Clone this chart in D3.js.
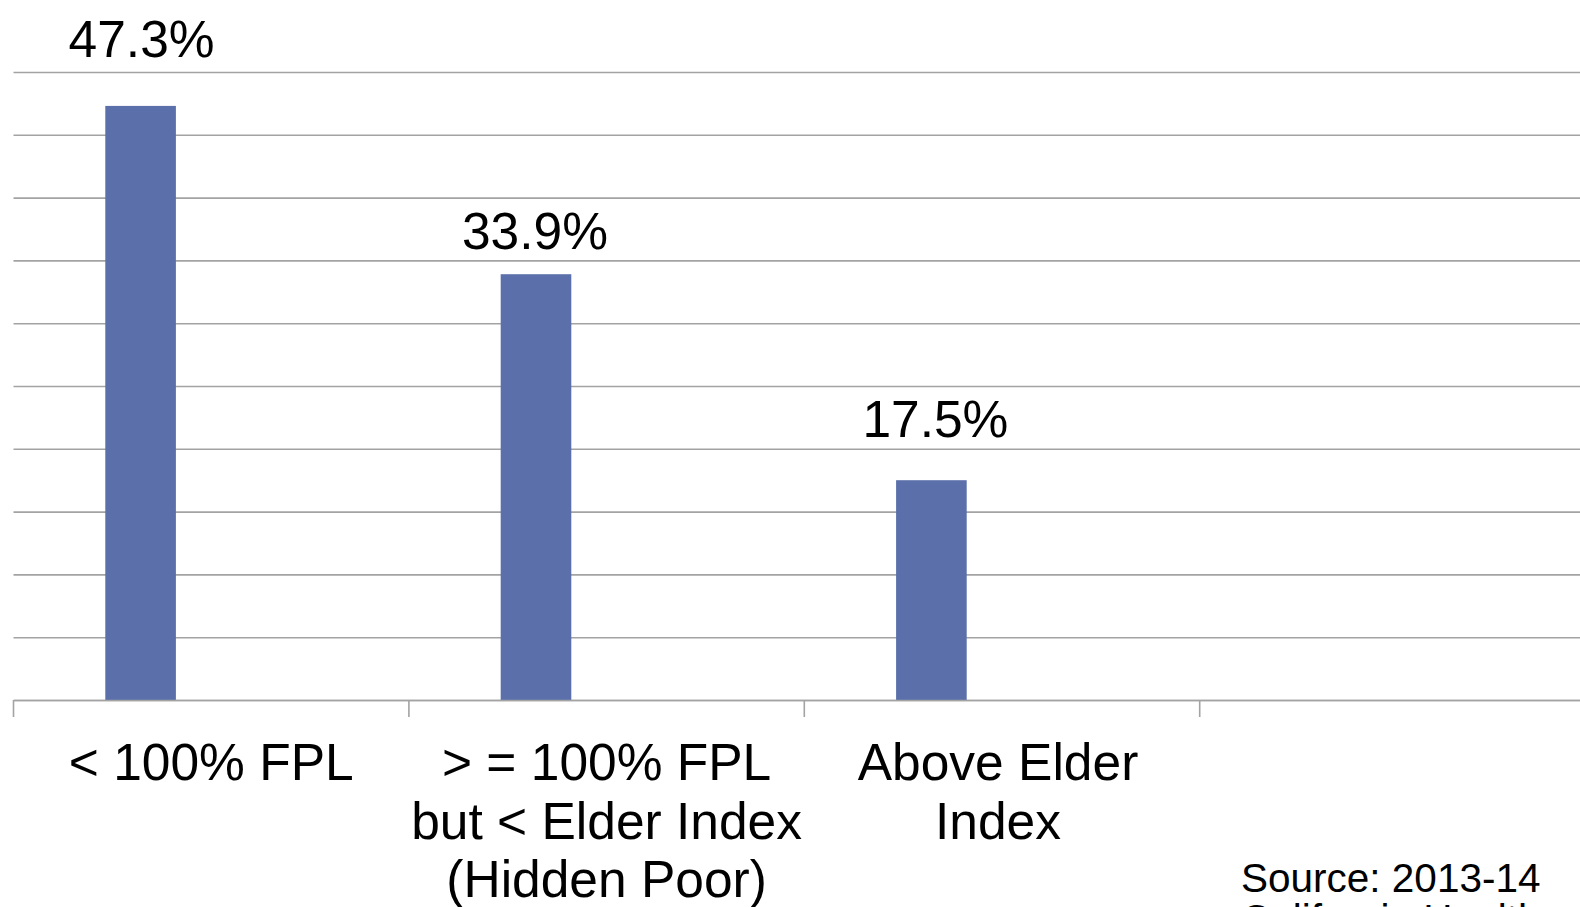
<!DOCTYPE html>
<html>
<head>
<meta charset="utf-8">
<script src="https://cdn.jsdelivr.net/npm/d3@7"></script>
<style>
  html, body { margin: 0; padding: 0; background: #fff; overflow: hidden; }
  svg { display: block; font-family: "Liberation Sans", Arial, sans-serif; }
</style>
</head>
<body>
<svg id="chart"></svg>
<script>
// chart data
const categories = ['lt100', 'gte100', 'above', 'empty']
const categoryLines = [
  ['< 100% FPL'],
  ['> = 100% FPL', 'but < Elder Index', '(Hidden Poor)'],
  ['Above Elder', 'Index'],
  []
]
const values = [47.3, 33.9, 17.5, null]
const valueLabels = ['47.3%', '33.9%', '17.5%', '']
// original chart had 3 series slots per category, only the first one is filled
const seriesSlots = ['s1', 's2', 's3']
const yTicks = [0, 5, 10, 15, 20, 25, 30, 35, 40, 45, 50]
const sourceLines = ['Source: 2013-14', 'California Health']

// label nudges (pixels), as placed in the original
const labelLift = [49, 25, 43, 0]
const labelShift = [1, -1, 4, 0]
const catShift = [0, 0, -4, 0]

const width = 1580
const height = 907

const svg = d3.select('svg#chart')
  .attr('width', width)
  .attr('height', height)

const plotLeft = 13.5
const plotRight = plotLeft + 4 * 395.4
const plotTop = 72
const plotBottom = 700

const x = d3.scaleBand()
  .domain(categories)
  .range([plotLeft, plotRight])
  .padding(0)

const slot = d3.scaleBand()
  .domain(seriesSlots)
  .range([0, x.bandwidth()])
  .paddingInner(0)
  .paddingOuter(1.3)

const y = d3.scaleLinear()
  .domain([0, 50])
  .range([plotBottom, plotTop])

// gridlines
const grid = svg.append('g')
  .attr('transform', 'translate(' + plotLeft + ',0)')
  .call(d3.axisLeft(y).tickValues(yTicks).tickSize(-(plotRight - plotLeft)).tickFormat(''))
grid.select('.domain').remove()
grid.selectAll('.tick line')
  .attr('stroke', '#a3a3a3')
  .attr('stroke-width', 1.6)

// bars
const data = categories.map((c, i) => ({
  c, v: values[i], label: valueLabels[i], lift: labelLift[i], shift: labelShift[i]
})).filter(d => d.v != null)

svg.append('g')
  .selectAll('rect')
  .data(data)
  .enter().append('rect')
  .attr('x', d => x(d.c) + slot('s1'))
  .attr('y', d => y(d.v))
  .attr('width', slot.bandwidth())
  .attr('height', d => y(0) - y(d.v))
  .attr('fill', '#5b70ab')

// value labels
svg.append('g')
  .selectAll('text')
  .data(data)
  .enter().append('text')
  .attr('x', d => x(d.c) + slot('s1') + slot.bandwidth() / 2 + d.shift)
  .attr('y', d => y(d.v) - d.lift)
  .attr('text-anchor', 'middle')
  .attr('font-size', '51.5px')
  .attr('fill', '#000')
  .text(d => d.label)

// category axis: baseline, ticks at band edges, wrapped labels
const axis = svg.append('g')
  .attr('transform', 'translate(0,' + plotBottom + ')')
  .call(d3.axisBottom(x).tickSize(0).tickFormat(''))
axis.select('.domain')
  .attr('stroke', '#a3a3a3')
  .attr('stroke-width', 1.6)

const edges = categories.map(c => x(c)).concat([plotRight])
axis.selectAll('.edge')
  .data(edges)
  .enter().append('line')
  .attr('class', 'edge')
  .attr('x1', d => d)
  .attr('x2', d => d)
  .attr('y1', 0)
  .attr('y2', 17)
  .attr('stroke', '#a3a3a3')
  .attr('stroke-width', 1.6)

axis.selectAll('.tick').each(function(c, i) {
  const t = d3.select(this).append('text')
    .attr('fill', '#000')
    .attr('text-anchor', 'middle')
    .attr('font-size', '51.5px')
    .attr('font-family', '"Liberation Sans", Arial, sans-serif')
  categoryLines[i].forEach((line, k) => {
    t.append('tspan')
      .attr('x', catShift[i])
      .attr('y', 80 + k * 58.7)
      .text(line)
  })
})

// source note (second line runs off the bottom edge, as in the original)
svg.append('text')
  .attr('x', 1241)
  .attr('y', 892)
  .attr('font-size', '40.5px')
  .attr('fill', '#000')
  .selectAll('tspan')
  .data(sourceLines)
  .enter().append('tspan')
  .attr('x', 1241)
  .attr('dy', (d, i) => i === 0 ? 0 : 41)
  .text(d => d)
</script>
</body>
</html>
